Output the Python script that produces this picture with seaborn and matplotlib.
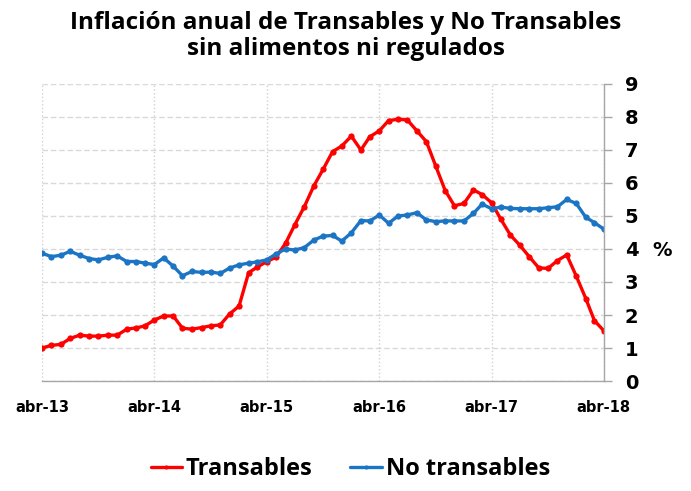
import pandas as pd
import seaborn as sns
import matplotlib.pyplot as plt

# monthly series, abr-13 .. abr-18
months = pd.date_range('2013-04-01', '2018-04-01', freq='MS')

transables = [1.0, 1.08, 1.11, 1.29, 1.39, 1.36, 1.36, 1.39, 1.39, 1.57,
              1.61, 1.67, 1.85, 1.97, 1.97, 1.6, 1.57, 1.62, 1.67, 1.70,
              2.03, 2.27, 3.28, 3.45, 3.62, 3.75, 4.17, 4.73, 5.28, 5.91,
              6.41, 6.95, 7.12, 7.42, 7.0, 7.40, 7.58, 7.89, 7.93, 7.91,
              7.58, 7.25, 6.52, 5.77, 5.31, 5.38, 5.79, 5.65, 5.40, 4.90,
              4.42, 4.12, 3.77, 3.43, 3.41, 3.65, 3.82, 3.18, 2.5, 1.83, 1.52]

no_transables = [3.87, 3.77, 3.81, 3.93, 3.81, 3.71, 3.67, 3.75, 3.79, 3.62,
                 3.62, 3.57, 3.53, 3.73, 3.48, 3.19, 3.32, 3.29, 3.30, 3.26,
                 3.42, 3.52, 3.57, 3.61, 3.67, 3.85, 4.0, 3.97, 4.04, 4.27,
                 4.39, 4.41, 4.24, 4.49, 4.86, 4.85, 5.03, 4.78, 5.0, 5.03,
                 5.1, 4.88, 4.83, 4.85, 4.85, 4.85, 5.08, 5.36, 5.22, 5.27,
                 5.23, 5.22, 5.22, 5.22, 5.25, 5.28, 5.5, 5.38, 4.96, 4.8, 4.6]

tick_dates = pd.date_range('2013-04-01', '2018-04-01', freq='12MS')
tick_labels = ['abr-13', 'abr-14', 'abr-15', 'abr-16', 'abr-17', 'abr-18']

df = pd.DataFrame({'fecha': months, 'Transables': transables,
                   'No transables': no_transables})
long_df = df.melt(id_vars='fecha', var_name='serie', value_name='valor')

sns.set_theme(style='white')
plt.rcParams['font.family'] = ['DejaVu Sans']
plt.rcParams['text.color'] = 'black'
plt.rcParams['xtick.color'] = 'black'
plt.rcParams['ytick.color'] = 'black'

fig = plt.figure(figsize=(6.91, 4.91), dpi=100)
ax = fig.add_axes([0.061, 0.224, 0.813, 0.605])

colors = {'Transables': '#FF0000', 'No transables': '#1B75C4'}
sns.lineplot(data=long_df, x='fecha', y='valor', hue='serie', palette=colors,
             marker='o', markersize=4.5, markeredgewidth=0, linewidth=2.4,
             ax=ax, legend=False)

ax.set_xlim(months[0], months[-1])
ax.set_ylim(0, 9)
ax.set_yticks(range(0, 10))
ax.set_xticks(tick_dates)
ax.set_xticklabels(tick_labels, fontweight='bold', fontsize=10.5)
ax.set_xlabel('')
ax.set_ylabel('')
ax.yaxis.tick_right()
for lbl in ax.get_yticklabels():
    lbl.set_fontweight('bold')
    lbl.set_fontsize(14)
ax.tick_params(axis='y', right=True, length=6, width=1, color='#A6A6A6',
               labelcolor='black', pad=9)
ax.tick_params(axis='x', length=0, pad=14, labelcolor='black')

ax.yaxis.grid(True, linestyle=(0, (4, 2)), color='#D9D9D9', linewidth=1)
ax.xaxis.grid(True, linestyle=':', color='#D0D0D0', linewidth=1)

for s in ['top', 'left']:
    ax.spines[s].set_visible(False)
for s in ['right', 'bottom']:
    ax.spines[s].set_color('#A6A6A6')
    ax.spines[s].set_linewidth(1)

fig.text(0.5, 0.978, 'Inflación anual de Transables y No Transables\nsin alimentos ni regulados',
         ha='center', va='top', fontsize=17.5, fontweight='bold', color='black',
         family=['Open Sans', 'DejaVu Sans'], linespacing=1.1)
fig.text(662 / 691, 1 - 250 / 491, '%', ha='center', va='center',
         fontsize=14, fontweight='bold', color='black')

handles = [plt.Line2D([], [], color=colors[k], linewidth=2.4, marker='o',
                      markersize=3, markeredgewidth=0) for k in colors]
leg = fig.legend(handles, list(colors), loc='center', bbox_to_anchor=(0.507, 0.045),
                 ncol=2, frameon=False, handlelength=1.35, handletextpad=0.15,
                 columnspacing=1.6,
                 prop={'family': 'Open Sans', 'weight': 'bold', 'size': 17})
for t in leg.get_texts():
    t.set_color('black')

fig.savefig('out.png', dpi=100)
